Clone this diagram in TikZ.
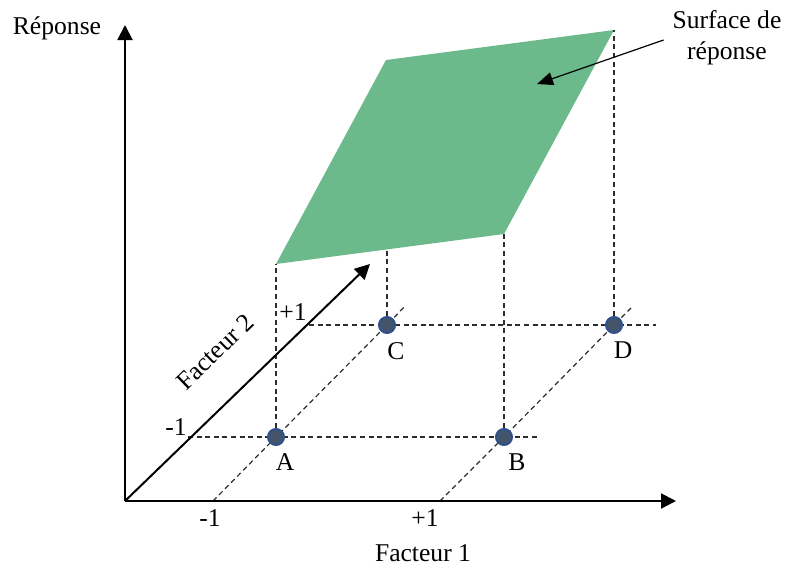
\documentclass[tikz,border=0pt]{standalone}
\usepackage{fontspec}
\setmainfont{Liberation Serif}
\usetikzlibrary{arrows.meta}
\usetikzlibrary{positioning,backgrounds}
\definecolor{surfgreen}{RGB}{108,185,140}
\definecolor{dotfill}{RGB}{68,84,106}
\definecolor{dotedge}{RGB}{47,82,143}
\definecolor{guidegray}{RGB}{45,45,45}

\begin{document}
\begin{tikzpicture}[x=0.5pt,y=-0.5pt,
    every node/.style={font=\fontsize{12.8}{15.5}\selectfont},
    axe/.style={-{Triangle[length=7.5pt,width=7.5pt]},line width=1pt},
    guide/.style={guidegray,line width=0.6pt,dash pattern=on 2.5pt off 1.8pt},
    essai/.style={circle,fill=dotfill,draw=dotedge,line width=1pt,
      minimum size=8pt,inner sep=0pt},
    lettre/.style={below=0.5pt of #1,xshift=4.5pt}]
    \useasboundingbox (0,0) rectangle (793,564);
    % axes
    \coordinate (O) at (125,501);
    \coordinate (yTop) at (125,25);
    \coordinate (xEnd) at (676,501);
    \coordinate (f2End) at (370,264);
    % surface corners
    \coordinate (s1) at (276,264);
    \coordinate (s2) at (504,234);
    \coordinate (s3) at (614,30);
    \coordinate (s4) at (386,60);
    \coordinate (sC) at (387,249);

    % experimental points
    \node[essai] (A) at (276,437) {};
    \node[essai] (B) at (504,437) {};
    \node[essai] (C) at (387,325) {};
    \node[essai] (D) at (614,325) {};

    % grid guides (behind the points)
    \coordinate (m1x) at (213,501);
    \coordinate (p1x) at (440,501);
    \coordinate (m1y) at (188,437);
    \coordinate (p1y) at (309,325);
    \begin{scope}[on background layer]
      \fill[surfgreen] (s1) -- (s2) -- (s3) -- (s4) -- cycle;
      \draw[guide] (m1y) -- (539,437);
      \draw[guide] (p1y) -- (656,325);
      \draw[guide] (m1x) -- (A.center) -- (C.center) -- (406,305);
      \draw[guide] (p1x) -- (B.center) -- (D.center) -- (633,306);
      \draw[guide] (A) -- (s1);
      \draw[guide] (B) -- (s2);
      \draw[guide] (C) -- (sC);
      \draw[guide] (D) -- (s3);
    \end{scope}

    \draw[axe] (O) -- (yTop);
    \draw[axe] (O) -- (xEnd);
    \draw[axe] (O) -- (f2End);

    % labels
    \node[lettre=A] {A};
    \node[lettre=B,xshift=2pt] {B};
    \node[lettre=C] {C};
    \node[lettre=D] {D};
    \node at (210,518) {-1};
    \node at (425,518) {+1};
    \node at (176,427) {-1};
    \node at (293,312) {+1};
    \node (lblRep) at (57,28) {Réponse};
    \node (lblF1) at (423,553) {Facteur 1};
    \node[rotate=44] (lblF2) at (215,352) {Facteur 2};
    \node[align=center] (lblSurf) at (727,38) {Surface de\\réponse};
    \coordinate (surfPt) at (537,84);
    \draw[-{Triangle[length=8pt,width=6.5pt]},line width=0.6pt]
      ([xshift=-1pt,yshift=-1pt]lblSurf.west) -- (surfPt);
\end{tikzpicture}
\end{document}
